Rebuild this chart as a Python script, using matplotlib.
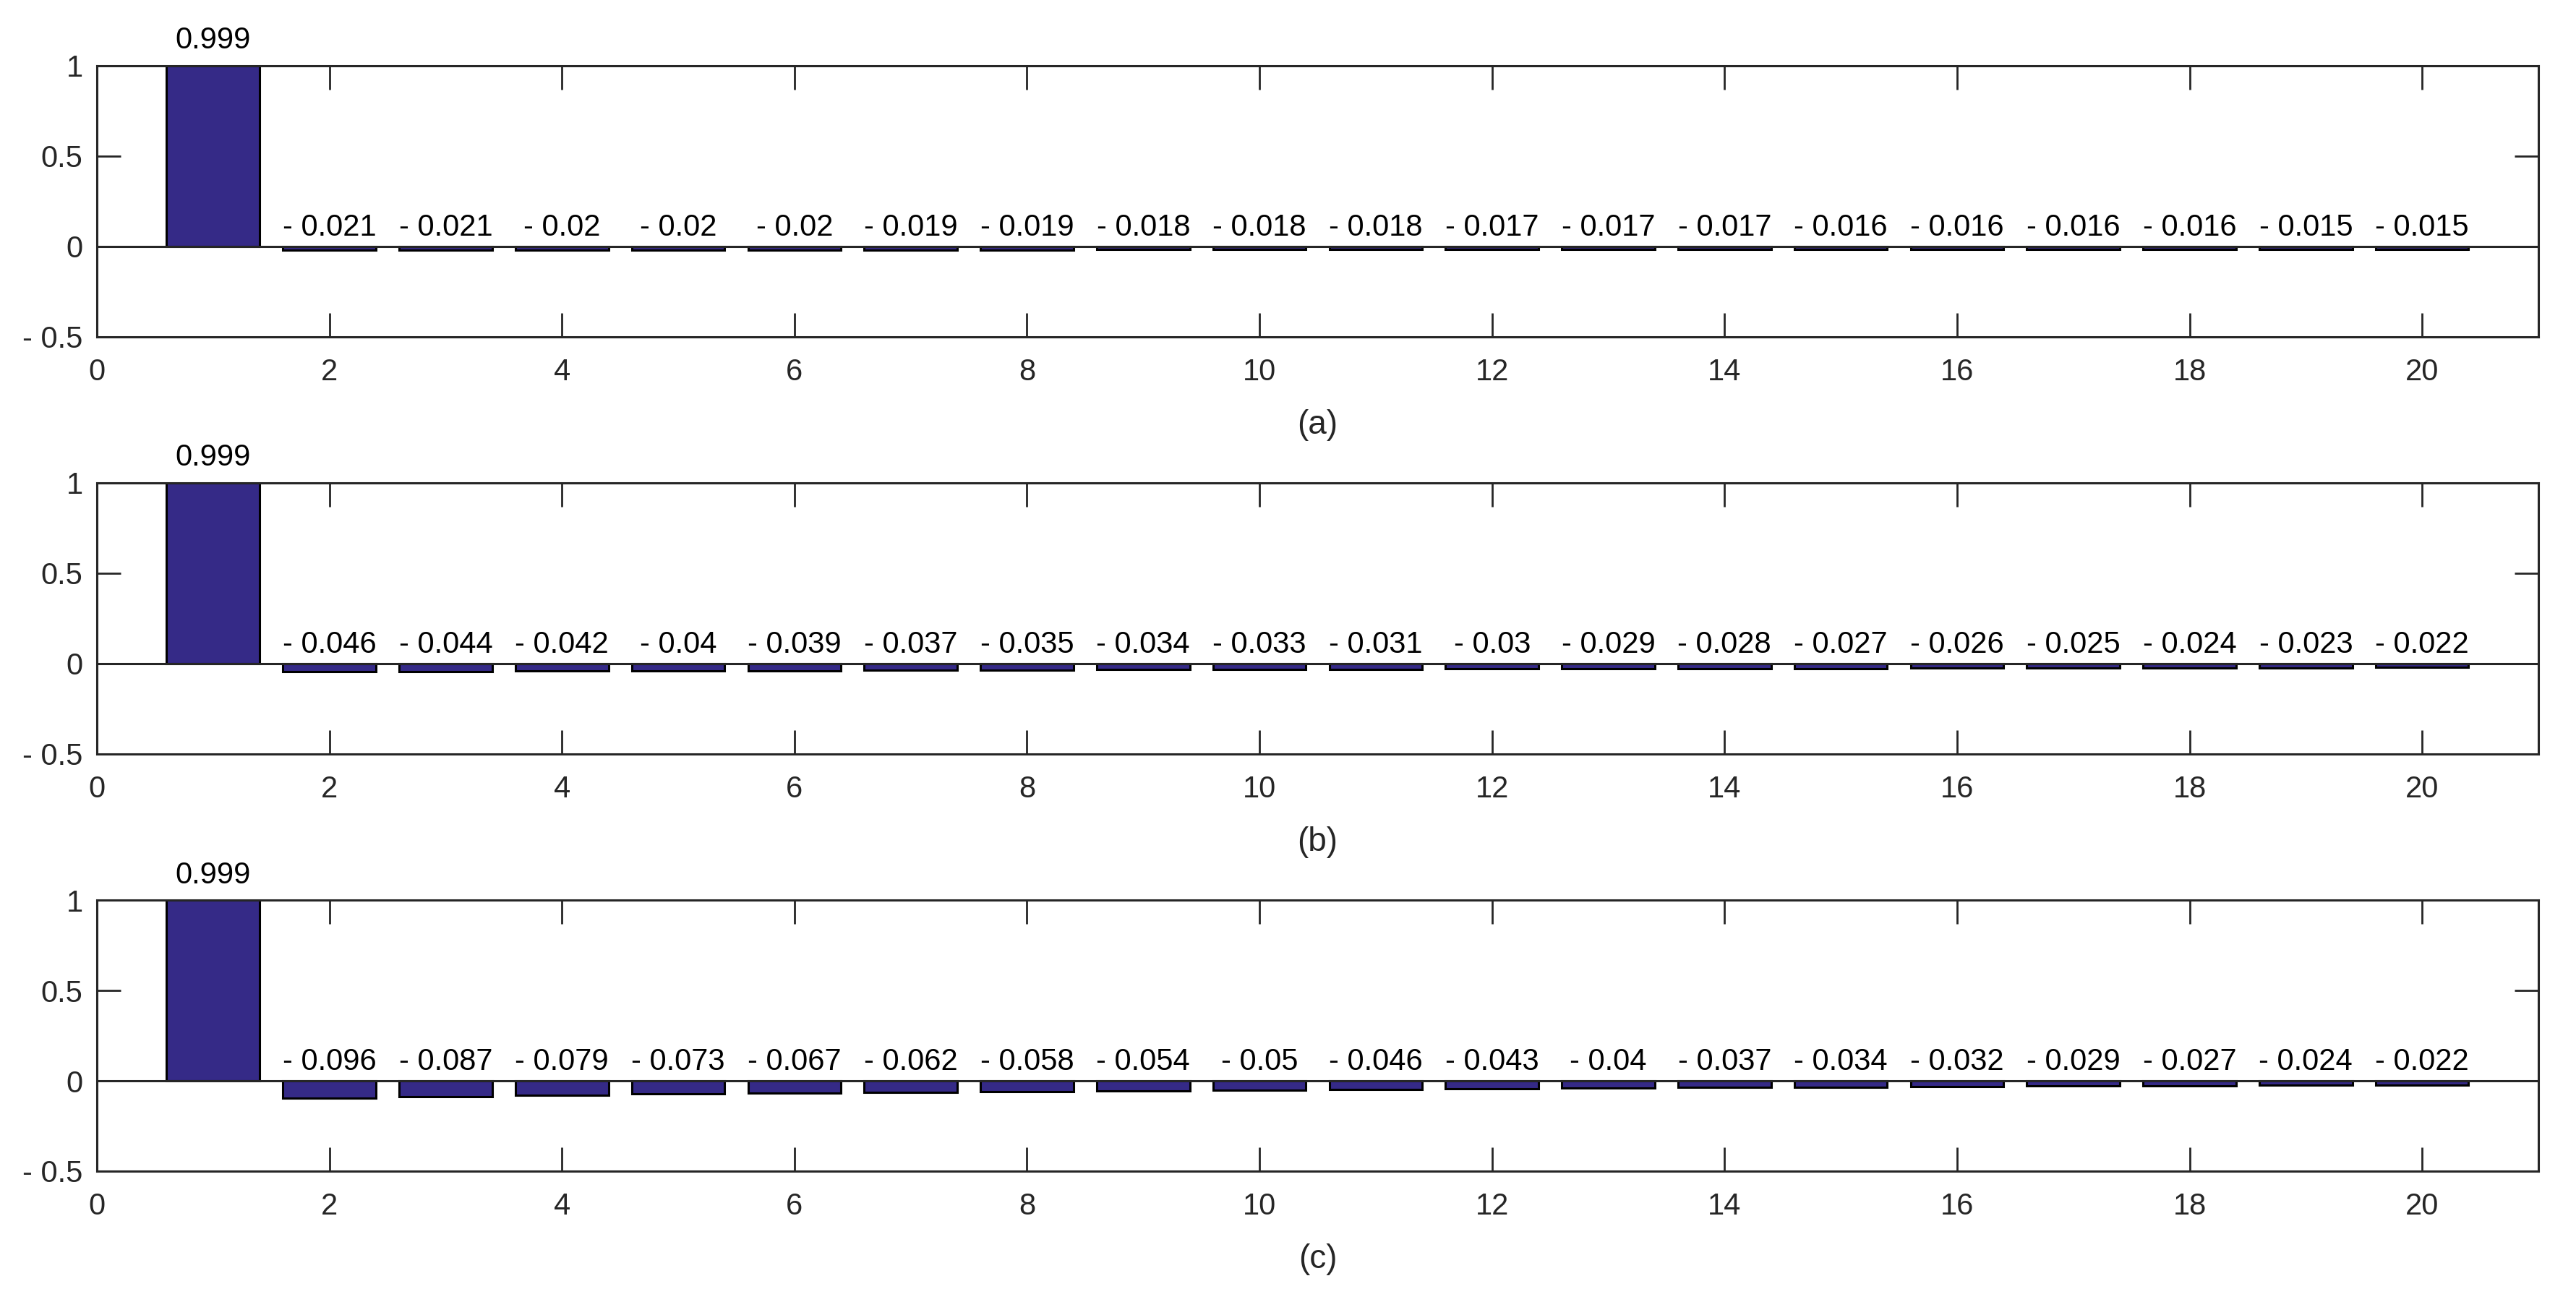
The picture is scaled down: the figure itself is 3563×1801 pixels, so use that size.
import numpy as np
import matplotlib.pyplot as plt

plt.rcParams['font.family'] = ['Liberation Sans', 'DejaVu Sans']

# lag index and correlation values of the three cases
lags = np.arange(1, 21)
werte_a = [0.999, -0.021, -0.021, -0.02, -0.02, -0.02, -0.019, -0.019, -0.018, -0.018,
           -0.018, -0.017, -0.017, -0.017, -0.016, -0.016, -0.016, -0.016, -0.015, -0.015]
werte_b = [0.999, -0.046, -0.044, -0.042, -0.04, -0.039, -0.037, -0.035, -0.034, -0.033,
           -0.031, -0.03, -0.029, -0.028, -0.027, -0.026, -0.025, -0.024, -0.023, -0.022]
werte_c = [0.999, -0.096, -0.087, -0.079, -0.073, -0.067, -0.062, -0.058, -0.054, -0.05,
           -0.046, -0.043, -0.04, -0.037, -0.034, -0.032, -0.029, -0.027, -0.024, -0.022]
titel = ['(a)', '(b)', '(c)']
xticks = np.arange(0, 21, 2)
yticks = [-0.5, 0, 0.5, 1]

farbe = '#352a87'
achse = '#262626'
fs = 30


def matlab_zahl(v):
    # MATLAB style: minus drawn as "- "
    s = '{:g}'.format(round(v, 3))
    if s.startswith('-'):
        s = '- ' + s[1:]
    return s


fig = plt.figure(figsize=(35.63, 18.01), dpi=100)
unten = [0.7413, 0.4209, 0.1005]
for i, werte in enumerate([werte_a, werte_b, werte_c]):
    ax = fig.add_axes([0.0376, unten[i], 0.9478, 0.2082])
    ax.bar(lags, werte, width=0.8, color=farbe, edgecolor='black', linewidth=2.2, zorder=2)
    ax.axhline(0, color=achse, linewidth=2.2, zorder=3)
    for x, v in zip(lags, werte):
        y = v + 0.095 if v > 0 else 0.06
        ax.text(x, y, matlab_zahl(v), ha='center', va='baseline', fontsize=fs,
                color='black', clip_on=False)
    ax.set_xlim(0, 21)
    ax.set_ylim(-0.5, 1)
    ax.set_xticks(xticks)
    ax.set_xticklabels([str(t) for t in xticks])
    ax.set_yticks(yticks)
    ax.set_yticklabels([matlab_zahl(t) for t in yticks])
    ax.tick_params(axis='both', direction='in', length=24, width=2, colors=achse,
                   labelsize=fs, top=True, right=True)
    ax.tick_params(axis='x', pad=21)
    ax.tick_params(axis='y', pad=14)
    for sp in ax.spines.values():
        sp.set_color(achse)
        sp.set_linewidth(2.2)
    ax.set_xlabel(titel[i], fontsize=33, color=achse, labelpad=22)

fig.savefig('out.png', dpi=100, facecolor='white')
